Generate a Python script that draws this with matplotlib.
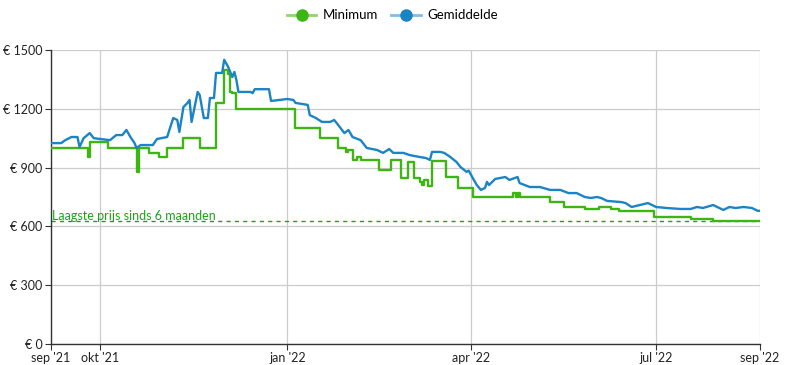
#! -*- coding: utf-8 -*-

#---------------------------------
# モジュールのインポート
#---------------------------------
import numpy as np
import pandas as pd
import matplotlib
matplotlib.use('Agg')
import matplotlib.pyplot as plt
from matplotlib.lines import Line2D

#---------------------------------
# データ (日数は開始日からのオフセット)
#---------------------------------
start_date = '2021-09-07'
end_day = 348

avg_days = [0, 5, 7, 10, 13, 14, 16, 19, 21, 29, 32, 35, 37, 39, 41, 42, 44, 50, 52, 57,
            60, 62, 63, 65, 67, 68, 69, 72, 73, 75, 77, 78, 80, 81, 84, 85, 87, 89, 90, 91,
            92, 98, 99, 100, 107, 108, 116, 119, 120, 126, 127, 130, 133, 137, 139, 141, 144, 146, 148, 152,
            155, 160, 163, 166, 168, 173, 176, 181, 184, 186, 187, 191, 193, 196, 199, 201, 204, 205, 207, 209,
            211, 213, 214, 215, 218, 223, 225, 229, 230, 235, 240, 245, 250, 254, 258, 262, 265, 268, 270, 273,
            280, 282, 285, 289, 293, 297, 302, 309, 314, 317, 320, 325, 330, 333, 336, 340, 344, 347, 348]
avg_values = [1025, 1025, 1040, 1056, 1056, 1005, 1050, 1076, 1050, 1040, 1066, 1066, 1092, 1056, 1025, 1000, 1015, 1015, 1046, 1056,
              1153, 1143, 1082, 1209, 1230, 1245, 1133, 1286, 1270, 1153, 1153, 1255, 1255, 1383, 1383, 1450, 1413, 1362, 1388, 1347,
              1286, 1286, 1280, 1300, 1300, 1240, 1250, 1245, 1230, 1220, 1168, 1153, 1133, 1133, 1143, 1117, 1076, 1092, 1056, 1040,
              1000, 990, 975, 995, 975, 975, 964, 954, 949, 939, 980, 980, 975, 954, 929, 903, 878, 885, 847, 811,
              786, 796, 827, 811, 842, 852, 837, 852, 821, 801, 801, 786, 786, 770, 770, 750, 745, 750, 745, 730,
              724, 719, 699, 709, 719, 699, 694, 689, 689, 699, 694, 709, 684, 699, 694, 699, 694, 679, 680]

min_days = [0, 18, 19, 28, 42, 43, 48, 53, 57, 65, 73, 81, 85, 87, 88, 89, 91, 120, 132, 141,
            145, 146, 148, 150, 152, 161, 167, 172, 175, 178, 181, 182, 183, 185, 187, 194, 200, 207, 227, 228,
            229, 230, 245, 252, 262, 269, 275, 279, 296, 314, 325, 348]
min_values = [1000, 954, 1030, 1000, 878, 1000, 975, 954, 1000, 1050, 1000, 1230, 1400, 1380, 1286, 1280, 1200, 1100, 1050, 1000,
              980, 990, 939, 954, 939, 888, 939, 847, 929, 847, 827, 811, 837, 806, 934, 852, 796, 750, 770, 750,
              770, 750, 724, 700, 690, 700, 690, 680, 650, 640, 630, 630]

lowest_price = 629
lowest_label = 'Laagste prijs sinds 6 maanden'

tick_dates = ['2021-09-07', '2021-10-01', '2022-01-01', '2022-04-01', '2022-07-01', '2022-08-21']
tick_labels = ["sep '21", "okt '21", "jan '22", "apr '22", "jul '22", "sep '22"]
y_ticks = [0, 300, 600, 900, 1200, 1500]

#---------------------------------
# 定数定義
#---------------------------------
GREEN = '#3db512'
BLUE = '#1a84c4'
DASH_GREEN = '#1aa31a'

#---------------------------------
# 関数
#---------------------------------
def main():
	plt.rcParams['font.family'] = ['Lato', 'DejaVu Sans']

	t0 = pd.Timestamp(start_date)
	avg_x = t0 + pd.to_timedelta(avg_days, unit='D')
	min_x = t0 + pd.to_timedelta(min_days, unit='D')
	x_end = t0 + pd.Timedelta(days=end_day)

	fig = plt.figure(figsize=(7.85, 3.65), dpi=100)
	ax = fig.add_axes([51 / 785, 21 / 365, 709 / 785, 294 / 365])

	# --- グリッド ---
	ax.grid(True, color='#cccccc', linewidth=0.9)
	ax.set_axisbelow(True)

	# --- 系列 ---
	ax.step(min_x, min_values, where='post', color=GREEN, linewidth=1.7, zorder=3)
	ax.plot(avg_x, avg_values, color=BLUE, linewidth=1.7, zorder=4)

	# --- 最安値ライン ---
	ax.axhline(lowest_price, color=DASH_GREEN, linewidth=1.0, linestyle=(0, (3, 3)), zorder=2)
	ax.text(t0 + pd.Timedelta(days=0.7), lowest_price + 25, lowest_label, color=DASH_GREEN,
			fontsize=9, va='center', ha='left')

	# --- 軸 ---
	ax.set_xlim(t0, x_end)
	ax.set_ylim(0, 1500)
	ax.set_xticks(pd.to_datetime(tick_dates))
	ax.set_xticklabels(tick_labels)
	ax.set_yticks(y_ticks)
	ax.set_yticklabels(['€ %d' % v for v in y_ticks])
	ax.tick_params(axis='both', labelsize=9, colors='#333333', length=4, width=0.8)
	ax.tick_params(axis='x', pad=1.5)
	ax.tick_params(axis='y', pad=2)
	ax.tick_params(axis='both', labelcolor='#222222')
	for side in ['top', 'right']:
		ax.spines[side].set_visible(False)
	for side in ['left', 'bottom']:
		ax.spines[side].set_color('#333333')
		ax.spines[side].set_linewidth(1.0)

	# --- 凡例 ---
	handles = [
		Line2D([0], [0], color='#8fd46f', linewidth=2, marker='o', markersize=8,
			   markerfacecolor=GREEN, markeredgecolor=GREEN),
		Line2D([0], [0], color='#7fbde3', linewidth=2, marker='o', markersize=8,
			   markerfacecolor=BLUE, markeredgecolor=BLUE),
	]
	fig.legend(handles, ['Minimum', 'Gemiddelde'], loc='center', bbox_to_anchor=(0.5, 0.958),
			   ncol=2, frameon=False, fontsize=9.5, handlelength=2.2, columnspacing=1.0,
			   handletextpad=0.5)

	fig.savefig('out.png', dpi=100)
	plt.close(fig)

	return

#---------------------------------
# メイン処理
#---------------------------------
if __name__ == '__main__':
	main()
